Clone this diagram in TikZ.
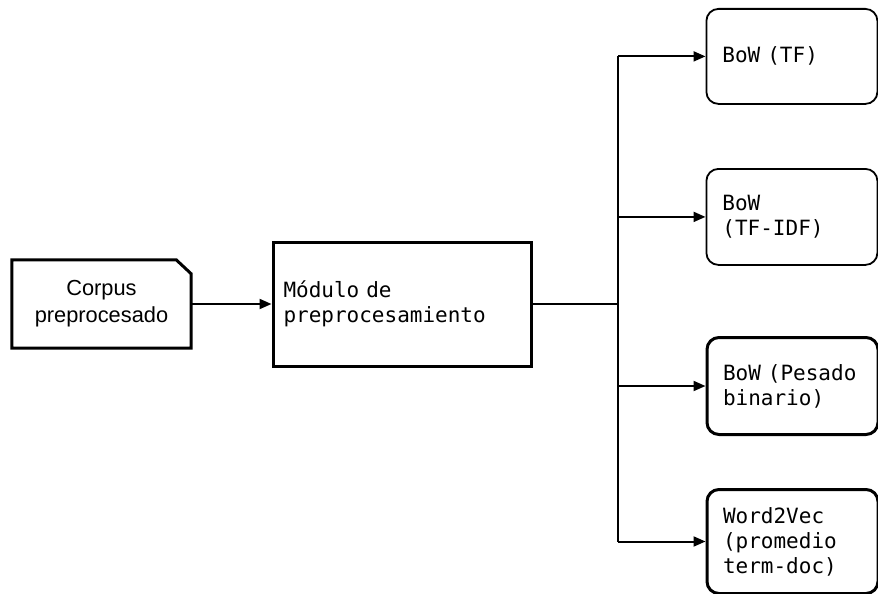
\documentclass[tikz,border=0pt]{standalone}
\usepackage{fontspec}
\setmainfont{Liberation Sans}
\newfontfamily\codefont{DejaVu Sans Mono}
\usetikzlibrary{arrows.meta}
\begin{document}
\begin{tikzpicture}[x=1pt,y=-1pt,
  link/.style={line width=2pt,-{Triangle[length=12pt,width=10pt]}},
  corpusbox/.style={minimum width=179pt,minimum height=88pt,inner sep=0pt,align=center,
    font=\fontsize{21.8}{27}\selectfont},
  modbox/.style={draw,line width=3pt,minimum width=258pt,minimum height=124pt,
    inner xsep=10.5pt,align=left,text width=237pt,font=\codefont\fontsize{21}{25}\selectfont},
  outbox/.style={draw,rounded corners=12pt,minimum width=171pt,inner xsep=16pt,
    align=left,text width=139pt,anchor=north west,font=\codefont\fontsize{21}{25}\selectfont},
  thinbox/.style={outbox,line width=1.8pt},
  thickbox/.style={outbox,line width=3pt}]
\useasboundingbox (0,0) rectangle (878,594);
\clip (0,0) rectangle (878,594);

% source document with a folded corner
\node[corpusbox] (corpus) at (101.5,304) {Corpus\\preprocesado};
\draw[line width=3pt,line join=miter]
  (corpus.north west) -- ([xshift=-15pt]corpus.north east)
  -- ([yshift=-14pt]corpus.north east) -- (corpus.south east)
  -- (corpus.south west) -- cycle;

% preprocessing module
\node[modbox] (mod) at (402,304) {Módulo de\\preprocesamiento};

% representation outputs
\node[thinbox,minimum height=95pt] (tf) at (705.5,8) {BoW (TF)};
\node[thinbox,minimum height=96pt] (tfidf) at (705.5,168) {BoW\\(TF-IDF)};
\node[thickbox,minimum height=97pt] (bin) at (705.5,336) {BoW (Pesado\\binario)};
\node[thickbox,minimum height=104pt] (w2v) at (705.5,488) {Word2Vec\\(promedio\\term-doc)};

\draw[link] (corpus.east) -- (mod.west);

% fan-out bus
\coordinate (hub) at (618,304);
\coordinate (top) at (tf.west -| hub);
\coordinate (bot) at (w2v.west -| hub);
\draw[line width=2.8pt] (mod.east) -- (hub);
\draw[line width=2.2pt] (top) -- (bot);
\draw[link] (top) -- (tf.west);
\draw[link] (tfidf.west -| hub) -- (tfidf.west);
\draw[link] (bin.west -| hub) -- (bin.west);
\draw[link] (bot) -- (w2v.west);
\end{tikzpicture}
\end{document}
